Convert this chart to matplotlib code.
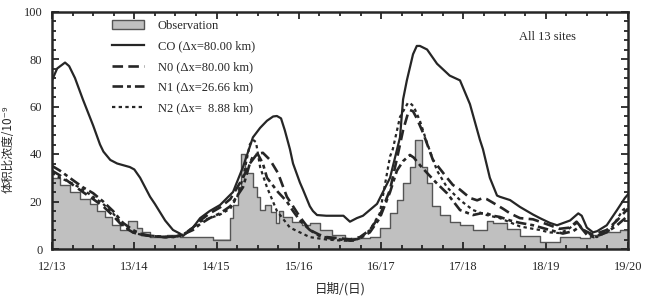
import numpy as np
import matplotlib
matplotlib.use("Agg")
import matplotlib.pyplot as plt
from matplotlib.ticker import MultipleLocator
from matplotlib.patches import Patch

# time axis in hours from the 12/13 tick
day_labels = ["12/13", "13/14", "14/15", "15/16", "16/17", "17/18", "18/19", "19/20"]

# observation: step start hour, value (10^-9)
obs_t = [0, 2.3, 5.2, 8.2, 11.1, 13.1, 15.5, 17.5, 19.8, 22.2, 24.8, 26.2, 28.6,
         33.5, 37.3, 47, 51.9, 52.8, 54.2, 55.1, 56.3, 58.6, 59.8, 60.7, 62.1,
         63.9, 65.3, 66.2, 67.4, 70, 72.9, 75.2, 78.2, 81.6, 85.4, 92.7, 95.6,
         98.6, 100.6, 102.4, 104.4, 105.9, 107.9, 109.4, 110.8, 113.1, 116.1,
         119, 122.8, 126.8, 128.6, 132.7, 136.5, 142.3, 148.1, 154, 156.9,
         159.8, 165.6, 168]
obs_v = [30, 27, 24, 21, 19, 16, 13.5, 10, 8, 12, 9, 7, 5,
         6, 5, 4, 13, 18.5, 26, 40, 32, 26, 22, 16.4, 18.5,
         15.6, 11, 16, 13.5, 11.4, 10, 11, 8, 6, 4.5, 5, 9,
         15, 20.6, 28, 34.5, 46, 34.5, 28, 18, 14.3, 11.4,
         10, 8, 12, 11, 8.5, 5.5, 3, 5, 4.5, 6,
         7, 8, 8]

co_t = [0, 1.5, 3.8, 5, 6.7, 9, 12, 14, 15, 17, 19, 22.7, 24, 25.7, 28.6, 30,
        33, 35.3, 37.3, 38.2, 41.1, 43.2, 46, 49, 52.8, 55.7, 58.6, 60.7, 62.7,
        64.5, 65.6, 66.8, 67.9, 69.4, 70.3, 72.3, 73.2, 75.2, 76.1, 77.3, 80,
        85, 86.9, 88.9, 90.7, 94.8, 98.6, 101.5, 102.4, 103.5, 105.3, 106.4,
        107.3, 109.4, 112.3, 116, 119, 121.9, 124.8, 125.7, 127.7, 129.8, 130.6,
        133.6, 136.5, 140.3, 142.3, 145.2, 147.3, 151.1, 153.5, 154.5, 156,
        157.8, 159, 161.8, 164.8, 167.1, 168]
co_v = [71, 76, 78.5, 77, 72, 63, 52, 44, 41, 37.5, 36, 34.5, 33.5, 30, 22, 19,
        12, 8, 6.5, 5.5, 9, 13, 16, 18.5, 24, 34.5, 47, 51, 54,
        55.8, 56, 55, 50, 42, 36, 28, 25, 18, 16, 14.3, 14,
        14, 11.5, 13, 14, 19, 30, 47, 63, 71, 82, 85.5,
        85.5, 84, 78, 73, 71, 61, 46, 42, 30, 22.5, 22,
        20.6, 17.7, 14.5, 13, 11, 10, 12, 15, 14, 9,
        7, 7.5, 10, 16.4, 21.5, 23]

n0_t = [0, 2.3, 6.1, 9, 12, 14.9, 17.8, 20.7, 23.6, 25.7, 28.6, 33, 35.3, 38.2,
        41.1, 43.2, 46, 49, 52, 55.7, 57.7, 59.8, 61.5, 63.6, 65.9, 68.5, 70.3,
        72.3, 75.2, 78, 80.2, 84, 87, 89.8, 92.7, 95.6, 98.6, 100.6, 102.4,
        103.8, 104.4, 105.3, 106.4, 108.2, 111.1, 115.2, 116.9, 119, 121.9, 124,
        125.7, 126.8, 128.6, 131.5, 133.6, 136.5, 140.3, 145.2, 148, 151, 153,
        155, 157.8, 161.8, 164.8, 168]
n0_v = [33, 31, 27, 24, 21, 18, 14, 9.5, 7, 6, 5.5, 5, 5, 6,
        9, 12, 15, 17.5, 21, 30, 36, 40, 40.5, 37.5, 32, 22, 18,
        13.5, 8, 6, 5, 4.5, 4, 5, 8, 14, 25, 38, 50,
        57, 58.5, 58, 55, 49, 37.5, 30, 27, 25, 21.5, 20.5,
        21.5, 21, 19.5, 17, 15, 13, 12.5, 10, 8.5, 9, 11.5,
        8, 6, 8, 12, 17]

n1_t = [0, 2.3, 6.1, 9, 12, 14.9, 17.8, 20.7, 23.6, 25.7, 28.6, 33, 37.3, 41.1,
        43.2, 46, 49, 52, 55.7, 57.7, 58.6, 60, 61.5, 62.7, 65.9, 68.5, 70.3,
        72.3, 75.2, 78, 81, 84, 87, 89.8, 92.7, 95.6, 98.6, 100.6, 102.4, 104.4,
        105.5, 107.5, 109.4, 112, 115.2, 119, 122.8, 125, 126.8, 128.6, 130.6,
        133.6, 136.5, 140.3, 145.2, 149, 152, 154, 156, 158, 161.8, 164.8, 168]
n1_v = [35, 33, 29, 26, 23.5, 20, 16, 11, 8, 6.5, 5.5, 5, 5.5, 8,
        10.5, 13, 15, 18, 26, 36, 39, 40, 36, 30, 24, 20, 16,
        12, 8, 5.5, 4.5, 4, 3.5, 4.5, 7, 13, 24, 33, 37, 39.6,
        38.5, 35, 32, 28, 23.5, 16.4, 14.3, 15, 15, 14, 13.5,
        12, 11, 10, 8, 6.5, 7.5, 9.5, 6, 5, 7, 10, 14]

n2_t = [0, 2.3, 6.1, 9, 12, 14.9, 17.8, 20.7, 23.6, 26, 30, 35, 38.2, 41.1,
        43.2, 46, 49, 52, 54, 55.7, 57.7, 58.6, 59.5, 60.7, 62.7, 65.6, 69.4,
        72.3, 75.2, 80, 85, 88, 89.8, 92.7, 95.6, 98.6, 99.4, 101.5, 103.8,
        104.4, 105.5, 107.3, 109.4, 112.3, 115.2, 119, 122.8, 126.8, 130.6,
        136.5, 140.3, 142.3, 145, 148.1, 150.2, 153.1, 154.5, 156, 158.9,
        162.8, 166.5, 168]
n2_v = [32, 30, 27.5, 25, 22, 19, 15, 10, 7, 6, 5.5, 5, 6, 9,
        11.5, 13, 14.5, 17, 22, 30, 44, 46, 45, 34.5, 26, 16, 9,
        7, 5, 4, 3.5, 3.5, 4.5, 8, 15, 39, 42, 55.6, 61.5,
        61.5, 60, 54, 44.6, 33, 26, 20.6, 16.4, 14.3, 13,
        9.5, 8.5, 8, 7, 6.7, 8, 11, 9, 6.7, 5,
        8, 16.4, 18]

plt.rcParams["font.family"] = ["Liberation Serif", "Noto Sans CJK SC", "DejaVu Sans"]
ink = "#262626"
obs_fill = "#c0c0c0"

fig = plt.figure(figsize=(6.52, 2.98), dpi=100)
ax = fig.add_axes([52 / 652, 49 / 298, 576 / 652, 237.5 / 298])

# observation histogram
ax.fill_between(obs_t, obs_v, step="post", color=obs_fill, lw=0, zorder=1)
ax.step(obs_t, obs_v, where="post", color="#555555", lw=1.0, zorder=2)

ax.plot(co_t, co_v, color=ink, lw=1.6, zorder=3)
ax.plot(n0_t, n0_v, color=ink, lw=1.9, ls=(0, (4, 2)), zorder=3)
ax.plot(n1_t, n1_v, color=ink, lw=1.9, ls=(0, (4, 1.5, 1.5, 1.5)), zorder=3)
ax.plot(n2_t, n2_v, color=ink, lw=1.6, ls=(0, (1.5, 1.5)), zorder=3)

ax.set_xlim(0, 168)
ax.set_ylim(0, 100)
ax.set_xticks(np.arange(0, 169, 24))
ax.set_xticklabels(day_labels)
ax.xaxis.set_minor_locator(MultipleLocator(6))
ax.set_yticks(np.arange(0, 101, 20))
ax.yaxis.set_minor_locator(MultipleLocator(4))
ax.tick_params(which="both", direction="in", top=True, right=True,
               labelsize=9, colors=ink, width=1.3)
ax.tick_params(which="major", length=5)
ax.tick_params(axis="x", which="major", pad=9)
ax.tick_params(axis="y", which="major", pad=7)
ax.tick_params(which="minor", length=3)
for sp in ax.spines.values():
    sp.set_linewidth(1.8)
    sp.set_color(ink)

ax.set_xlabel("日期/(日)", fontsize=9, color=ink, labelpad=6,
              family=["Noto Sans CJK SC", "DejaVu Sans"])
ax.set_ylabel("体积比浓度/10⁻⁹", fontsize=8.5, color=ink,
              family=["Noto Sans CJK SC", "DejaVu Sans"])
ax.yaxis.set_label_coords(-0.064, 0.42)

ax.text(0.81, 0.88, "All 13 sites", transform=ax.transAxes, fontsize=9, color=ink)

handles = [
    Patch(facecolor=obs_fill, edgecolor="#555555", lw=1.0),
    plt.Line2D([], [], color=ink, lw=1.6),
    plt.Line2D([], [], color=ink, lw=1.9, ls=(0, (4, 2))),
    plt.Line2D([], [], color=ink, lw=1.9, ls=(0, (4, 1.5, 1.5, 1.5))),
    plt.Line2D([], [], color=ink, lw=1.6, ls=(0, (1.5, 1.5))),
]
labels = ["Observation", "CO (Δx=80.00 km)", "N0 (Δx=80.00 km)",
          "N1 (Δx=26.66 km)", "N2 (Δx=  8.88 km)"]
leg = ax.legend(handles, labels, loc="upper left", bbox_to_anchor=(0.095, 0.985),
                frameon=False, fontsize=9, handlelength=2.6, handletextpad=1.1,
                labelspacing=0.68, borderaxespad=0)
for t in leg.get_texts():
    t.set_color(ink)

fig.savefig("out.png", dpi=100)
